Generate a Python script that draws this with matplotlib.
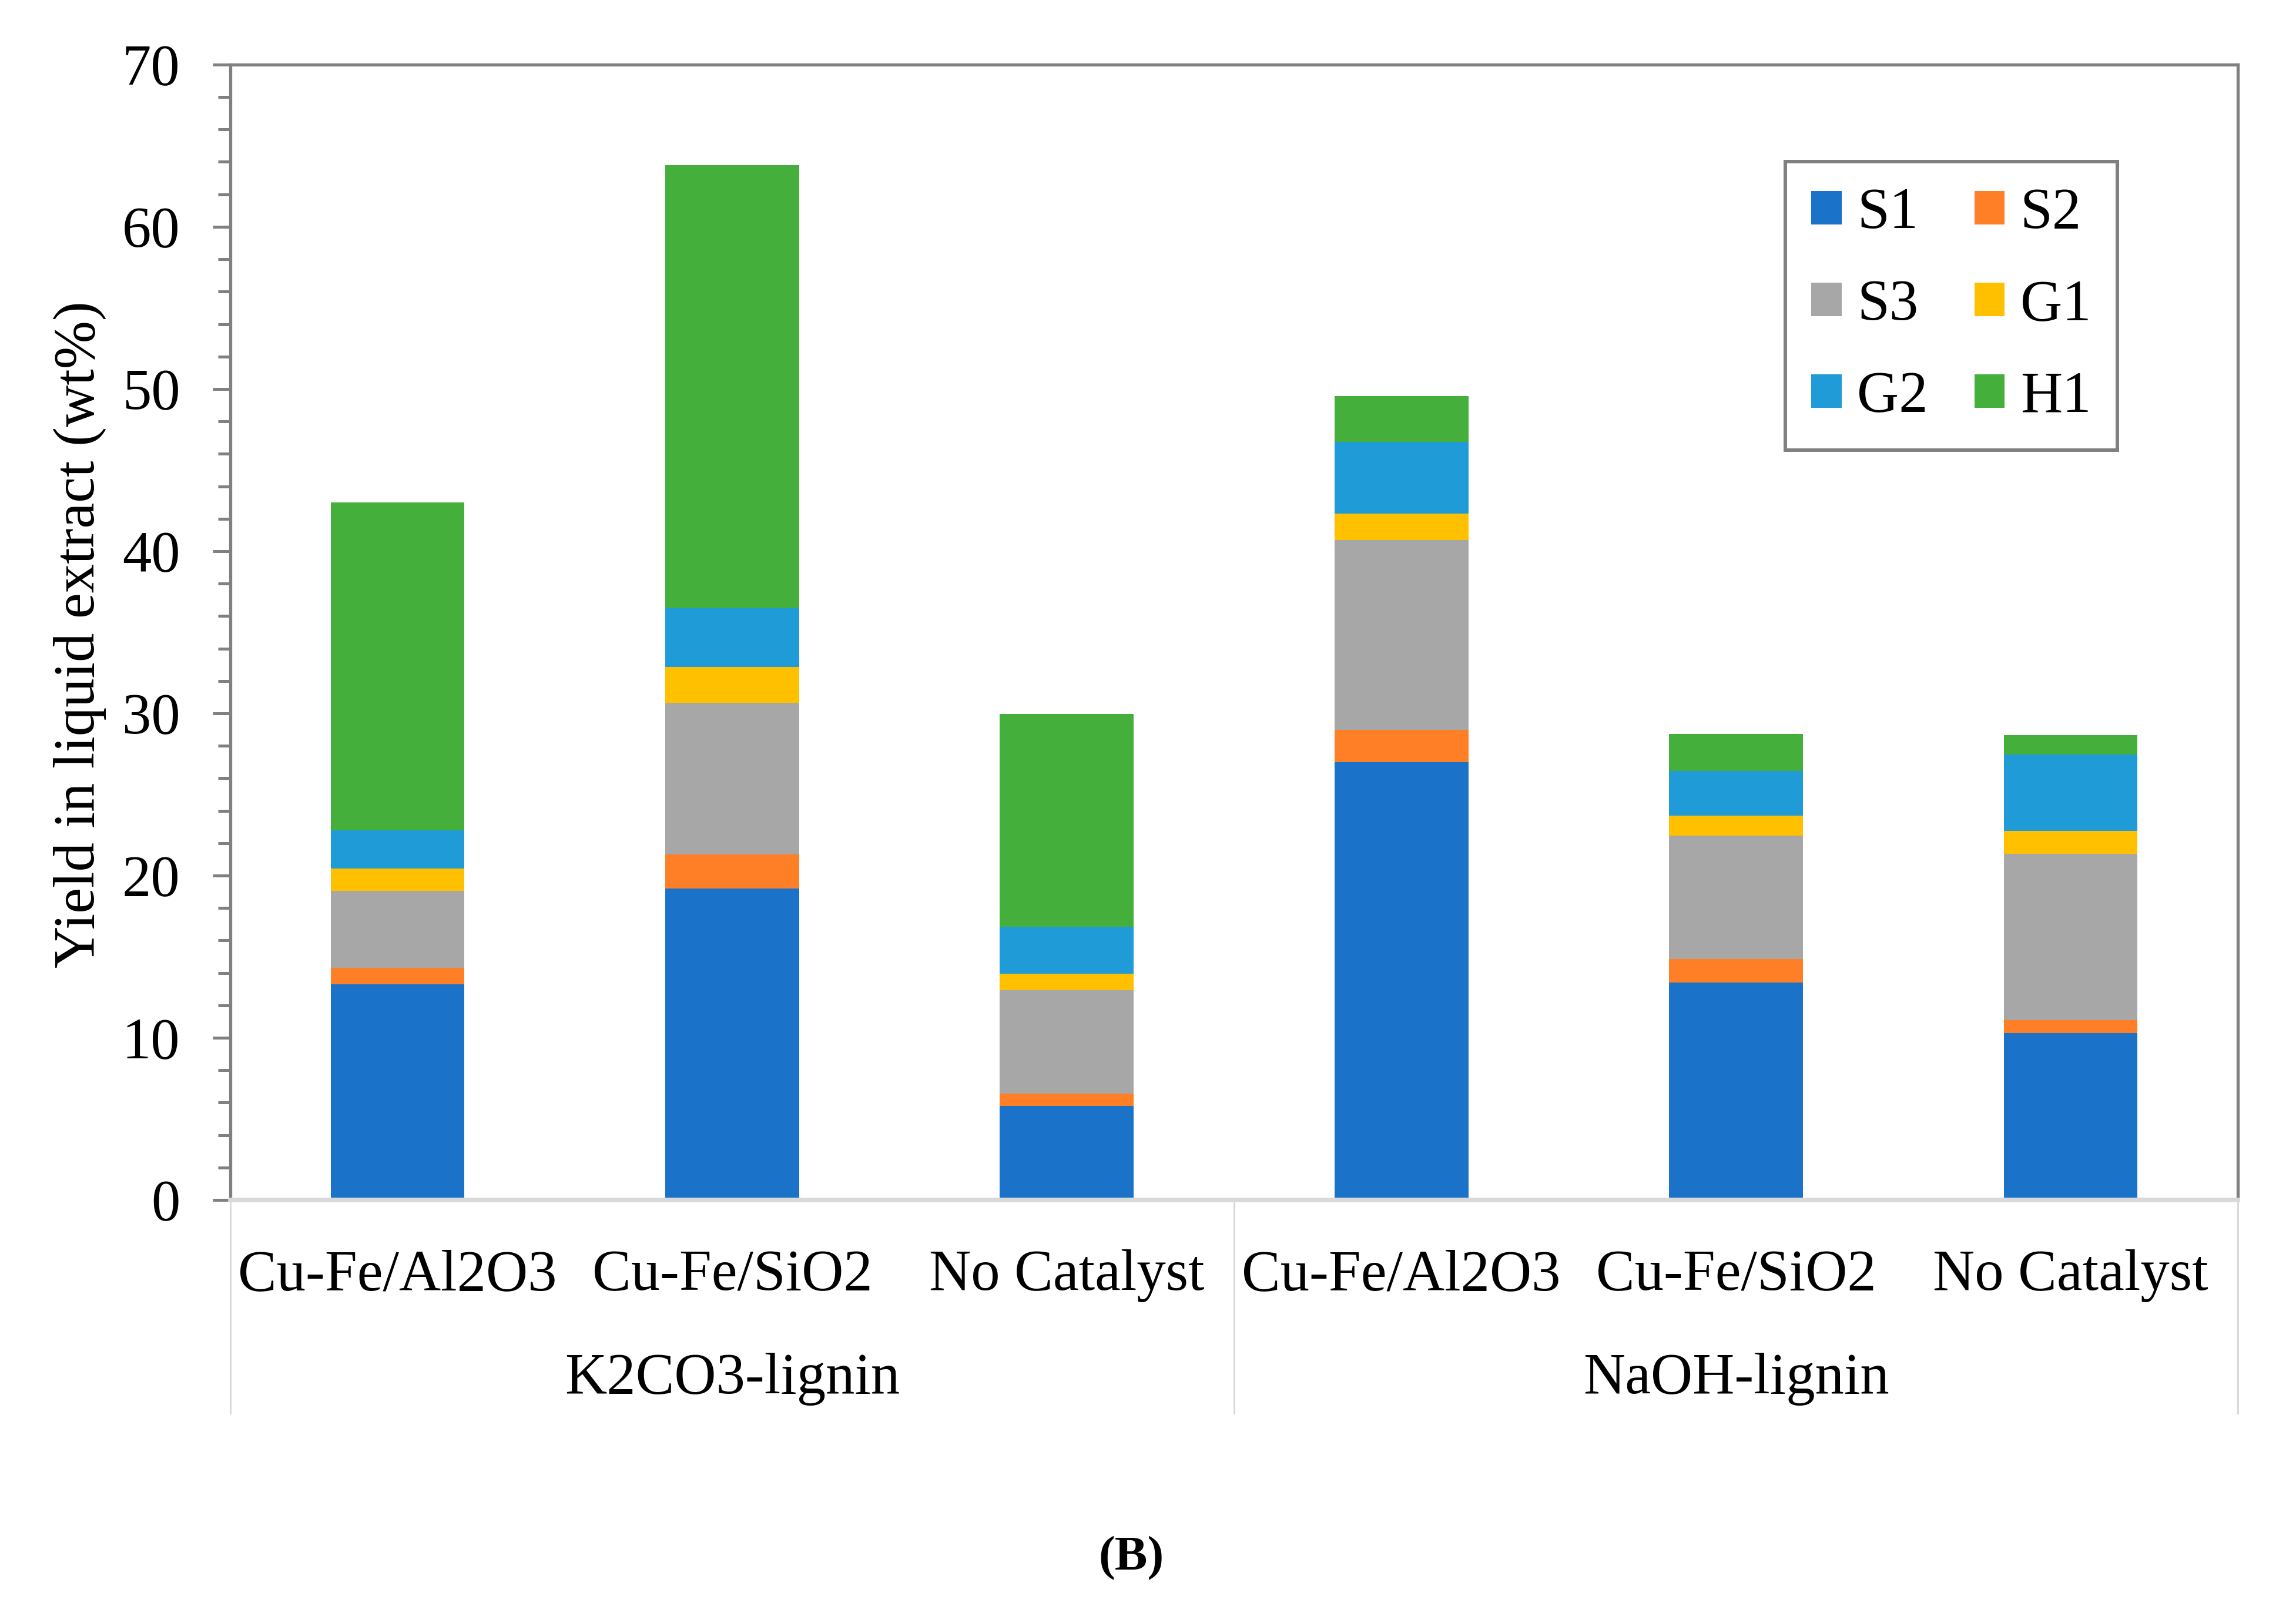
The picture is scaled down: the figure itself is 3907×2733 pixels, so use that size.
import matplotlib
matplotlib.use('Agg')
import matplotlib.pyplot as plt
import numpy as np
from matplotlib.ticker import MultipleLocator

plt.rcParams['font.family'] = ['Liberation Serif', 'DejaVu Serif']

# dados (wt%)
catalisadores = ['Cu-Fe/Al2O3', 'Cu-Fe/SiO2', 'No Catalyst',
                 'Cu-Fe/Al2O3', 'Cu-Fe/SiO2', 'No Catalyst']
grupos = ['K2CO3-lignin', 'NaOH-lignin']
series = ['S1', 'S2', 'S3', 'G1', 'G2', 'H1']

s1 = [13.3, 19.2, 5.8, 27.0, 13.4, 10.3]
s2 = [1.0, 2.1, 0.75, 2.0, 1.45, 0.8]
s3 = [4.75, 9.35, 6.4, 11.7, 7.6, 10.25]
g1 = [1.4, 2.2, 1.0, 1.6, 1.25, 1.4]
g2 = [2.35, 3.65, 2.9, 4.45, 2.75, 4.7]
h1 = [20.2, 27.3, 13.1, 2.8, 2.3, 1.2]

cores = ['#1A73C8', '#FF7F27', '#A7A7A7', '#FFC000', '#1F9CD8', '#45AF3C']

fs = 71
cinza = '#808080'
cinza_claro = '#D9D9D9'

fig = plt.figure(figsize=(39.07, 27.33), dpi=100)
ax = fig.add_axes([0.1003, 0.2528, 0.8744, 0.7070])

x = np.arange(len(catalisadores))
base = np.zeros(len(catalisadores))
barras = []
for nome, valores, cor in zip(series, [s1, s2, s3, g1, g2, h1], cores):
    b = ax.bar(x, valores, width=0.4, bottom=base, color=cor, label=nome, zorder=2)
    barras.append(b)
    base += np.array(valores)

ax.set_xlim(-0.5, 5.5)
ax.set_ylim(0, 70)
ax.yaxis.set_major_locator(MultipleLocator(10))
ax.yaxis.set_minor_locator(MultipleLocator(2))
ax.tick_params(axis='y', which='major', direction='out', length=21.6, width=3.6,
               color=cinza, pad=40, labelsize=fs)
ax.tick_params(axis='y', which='minor', direction='out', length=15, width=3.6, color=cinza)
ax.set_xticks([])

for lado in ['left', 'top', 'right']:
    ax.spines[lado].set_color(cinza)
    ax.spines[lado].set_linewidth(3.8)
ax.spines['bottom'].set_color(cinza_claro)
ax.spines['bottom'].set_linewidth(5.5)

# rotulos das categorias
for xi, nome in zip(x, catalisadores):
    ax.text(xi, -0.0792, nome, transform=ax.get_xaxis_transform(),
            ha='center', va='baseline', fontsize=fs)
for xi, nome in zip([1, 4], grupos):
    ax.text(xi, -0.1703, nome, transform=ax.get_xaxis_transform(),
            ha='center', va='baseline', fontsize=fs)

# linhas separadoras do eixo de categorias
for xs in [-0.5, 2.5, 5.5]:
    ax.plot([xs, xs], [0, -0.188], transform=ax.get_xaxis_transform(),
            color=cinza_claro, linewidth=2.2, clip_on=False, zorder=1)

fig.text(0.0348, 0.6048, 'Yield in liquid extract (wt%)', rotation=90,
         ha='center', va='center', fontsize=fs)

# legenda preenchida por linha: S1 S2 / S3 G1 / G2 H1
ordem = [0, 2, 4, 1, 3, 5]
leg = ax.legend(handles=[barras[i] for i in ordem], ncol=2, loc='upper left',
                bbox_to_anchor=(3038 / 3907, 1 - 275 / 2733),
                bbox_transform=fig.transFigure, borderaxespad=0,
                fontsize=fs, handlelength=0.52, handleheight=0.52,
                handletextpad=0.27, columnspacing=0.8, labelspacing=0.67,
                borderpad=0.45, fancybox=False, framealpha=1)
leg.get_frame().set_edgecolor(cinza)
leg.get_frame().set_linewidth(4.3)

fig.text(0.4927, 0.0296, '(B)', ha='center', va='center', fontsize=60,
         fontweight='bold')

fig.savefig('out.png', dpi=100)
